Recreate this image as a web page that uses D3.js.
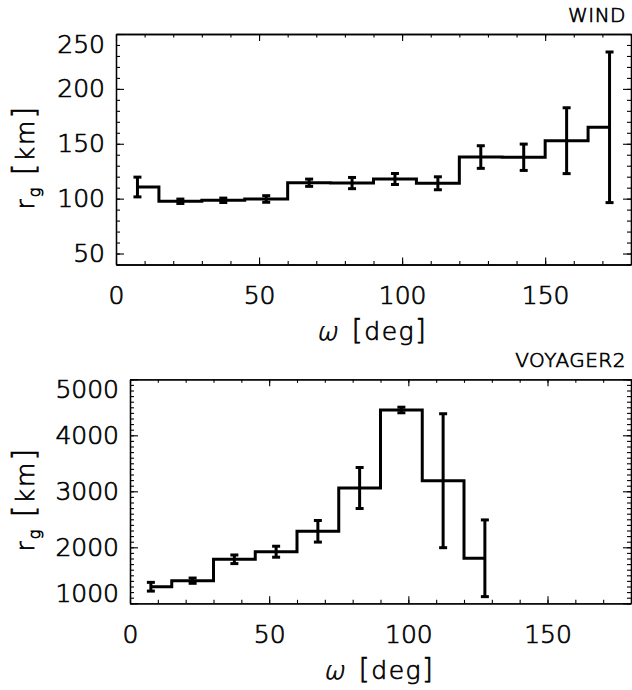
<!DOCTYPE html>
<html>
<head>
<meta charset="utf-8">
<script src="https://cdn.jsdelivr.net/npm/d3@7"></script>
<style>
  html, body { margin: 0; padding: 0; background: #fff; }
  svg text { font-family: "DejaVu Sans", sans-serif; fill: #000; font-weight: 200;
             stroke: #000; stroke-width: 0.7px; }
</style>
</head>
<body>
<svg id="chart" width="632" height="690"></svg>
<script>
// ---- data ----
const windCenters = [7.5, 22.5, 37.5, 52.5, 67.5, 82.5, 97.5, 112.5, 127.5, 142.5, 157.5, 172.5];
const windValues  = [110.6, 97.6, 98.5, 99.7, 114.5, 114.2, 117.9, 114.0, 137.9, 137.7, 152.8, 165.0];
const windErrors  = [9, 2, 2, 3, 3.3, 5.1, 5, 5.9, 10.3, 12, 30, 68.6];

const voyCenters = [7.5, 22.5, 37.5, 52.5, 67.5, 82.5, 97.5, 112.5, 127.5];
const voyValues  = [1296, 1404, 1786, 1921, 2286, 3059, 4452, 3189, 1804];
const voyErrors  = [78, 47, 77, 98, 193, 366, 50, 1196, 685];

const xTicks = [0, 50, 100, 150];
const windYTicks = [50, 100, 150, 200, 250];
const voyYTicks = [1000, 2000, 3000, 4000, 5000];

const svg = d3.select("#chart");

function panel(opts) {
  const { left, right, top, bottom, xDomain, yDomain, xMajor, xMinorStep,
          yMajor, yMinorStep, centers, values, errors, title, titleY, ylabelY } = opts;
  const x = d3.scaleLinear().domain(xDomain).range([left, right]);
  const y = d3.scaleLinear().domain(yDomain).range([bottom, top]);
  const g = svg.append("g");

  const xMinor = d3.range(xDomain[0], xDomain[1] + 1e-9, xMinorStep);
  const yMinor = d3.range(Math.ceil(yDomain[0] / yMinorStep) * yMinorStep, yDomain[1] + 1e-9, yMinorStep);

  const fs = 25;
  // minor ticks
  g.append("g").attr("transform", `translate(0,${bottom})`)
    .call(d3.axisBottom(x).tickValues(xMinor).tickSize(-3.5).tickSizeOuter(0).tickFormat(""));
  g.append("g").attr("transform", `translate(0,${top})`)
    .call(d3.axisTop(x).tickValues(xMinor).tickSize(-3.5).tickSizeOuter(0).tickFormat(""));
  g.append("g").attr("transform", `translate(${left},0)`)
    .call(d3.axisLeft(y).tickValues(yMinor).tickSize(-4).tickSizeOuter(0).tickFormat(""));
  g.append("g").attr("transform", `translate(${right},0)`)
    .call(d3.axisRight(y).tickValues(yMinor).tickSize(-4).tickSizeOuter(0).tickFormat(""));
  // major ticks
  g.append("g").attr("class", "xax").attr("transform", `translate(0,${bottom})`)
    .call(d3.axisBottom(x).tickValues(xMajor).tickSize(-7).tickSizeOuter(0).tickPadding(22).tickFormat(d3.format("d")));
  g.append("g").attr("transform", `translate(0,${top})`)
    .call(d3.axisTop(x).tickValues(xMajor).tickSize(-7).tickSizeOuter(0).tickFormat(""));
  const ly = g.append("g").attr("class", "yax").attr("transform", `translate(${left},0)`)
    .call(d3.axisLeft(y).tickValues(yMajor).tickSize(-8).tickSizeOuter(0).tickPadding(11).tickFormat(d3.format("d")));
  g.append("g").attr("transform", `translate(${right},0)`)
    .call(d3.axisRight(y).tickValues(yMajor).tickSize(-8).tickSizeOuter(0).tickFormat(""));

  g.selectAll(".domain").attr("stroke", "#000").attr("stroke-width", 1.3);
  g.selectAll(".tick line").attr("stroke", "#000").attr("stroke-width", 1.1);
  g.selectAll(".tick text").attr("font-size", fs).attr("font-family", "DejaVu Sans")
    .attr("font-weight", 200).attr("fill", "#000");
  // keep edge labels inside the box vertically
  ly.selectAll(".tick").each(function(d) {
    const py = y(d);
    const t = d3.select(this).select("text");
    if (py - top < 9) t.attr("y", top + 10 - py);
    else if (bottom - py < 9) t.attr("y", bottom - 10 - py);
  });

  // histogram (steps at midpoints, from first to last center)
  const line = d3.line().x((d, i) => x(centers[i])).y(d => y(d)).curve(d3.curveStep);
  g.append("path").datum(values).attr("d", line)
    .attr("fill", "none").attr("stroke", "#000").attr("stroke-width", 3).attr("stroke-linejoin", "miter");

  // error bars
  const cap = 4;
  const eb = g.append("g").attr("stroke", "#000").attr("stroke-width", 3);
  values.forEach((v, i) => {
    const cx = x(centers[i]);
    const y1 = y(v + errors[i]), y2 = y(v - errors[i]);
    eb.append("line").attr("x1", cx).attr("x2", cx).attr("y1", y1).attr("y2", y2);
    eb.append("line").attr("x1", cx - cap).attr("x2", cx + cap).attr("y1", y1).attr("y2", y1);
    eb.append("line").attr("x1", cx - cap).attr("x2", cx + cap).attr("y1", y2).attr("y2", y2);
  });

  // x axis title
  const cx = (left + right) / 2;
  const ty = bottom + 75.5;
  g.append("text").attr("transform", `translate(${cx - 57},${ty}) skewX(-12)`)
    .attr("font-size", fs).text("ω");
  const xt = g.append("text").attr("x", cx + 54).attr("y", ty)
    .attr("text-anchor", "end").attr("font-size", fs).attr("letter-spacing", 1.5);
  xt.append("tspan").attr("font-size", 28).text("[");
  xt.append("tspan").text("deg");
  xt.append("tspan").attr("font-size", 28).text("]");

  // y axis title
  const yt = g.append("text").attr("transform", `translate(34,${ylabelY}) rotate(-90)`)
    .attr("text-anchor", "middle").attr("font-size", fs).attr("letter-spacing", 2);
  yt.append("tspan").text("r");
  yt.append("tspan").attr("font-size", 16).attr("dy", 6).text("g");
  yt.append("tspan").attr("dy", -6).text(" ");
  yt.append("tspan").attr("font-size", 31).text("[");
  yt.append("tspan").text("km");
  yt.append("tspan").attr("font-size", 31).text("]");

  // panel title
  g.append("text").attr("x", 626).attr("y", titleY).attr("text-anchor", "end")
    .attr("font-size", 20).attr("letter-spacing", 0.5).text(title);
}

panel({
  left: 116, right: 631, top: 34, bottom: 264.5,
  xDomain: [0, 180], yDomain: [40, 250],
  xMajor: xTicks, xMinorStep: 10, yMajor: windYTicks, yMinorStep: 10,
  centers: windCenters, values: windValues, errors: windErrors,
  title: "WIND", titleY: 21.7, ylabelY: 157
});

panel({
  left: 130, right: 631, top: 379.3, bottom: 603.3,
  xDomain: [0, 180], yDomain: [1000, 5000],
  xMajor: xTicks, xMinorStep: 10, yMajor: voyYTicks, yMinorStep: 100,
  centers: voyCenters, values: voyValues, errors: voyErrors,
  title: "VOYAGER2", titleY: 367, ylabelY: 499
});
</script>
</body>
</html>
